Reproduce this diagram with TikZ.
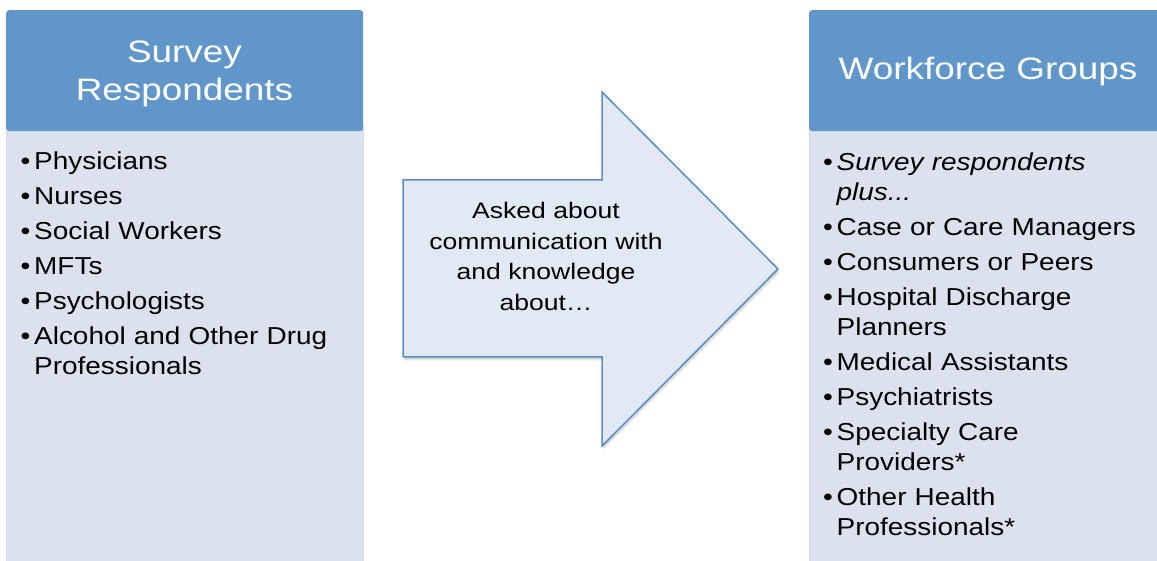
\documentclass[tikz,border=0pt]{standalone}
\usepackage{fontspec}
\setmainfont{Liberation Sans}[FakeStretch=1.14]
\newfontfamily\hdrfont{Liberation Sans}[FakeStretch=1.19]
\newfontfamily\arwfont{Liberation Sans}[FakeStretch=1.18]

\definecolor{hdrblue}{HTML}{6096C9}
\definecolor{panelfill}{HTML}{DBE2EE}
\definecolor{paneledge}{HTML}{D2DAE8}
\definecolor{arrowfill}{HTML}{E1E9F4}
\definecolor{arrowedge}{HTML}{5A8CC6}

% one bulleted entry with a hanging indent for wrapped lines
\newcommand\bentry[1]{\hangindent=13.5pt\hangafter=1\noindent\makebox[13.5pt][l]{•}#1\par}

\tikzset{
  hdrbox/.style={fill=hdrblue, draw=none, rounded corners=3pt, anchor=north west, inner sep=0pt},
  panelbox/.style={fill=panelfill, draw=paneledge, line width=1pt, anchor=north west, inner sep=0pt},
  titletext/.style={text=white, inner sep=0pt, text width=350pt, align=center,
    font=\hdrfont\fontsize{31}{38.5}\selectfont},
  listtext/.style={text=black, inner sep=0pt, anchor=base west, align=left,
    font=\fontsize{24.5}{30}\selectfont\setlength{\parskip}{5pt}},
  arrowbody/.style={fill=arrowfill, draw=arrowedge, line width=1.5pt, line join=miter},
  arrowshade/.style={fill=black, draw=none},
  arrowtext/.style={text=black, inner sep=0pt, text width=260pt, align=center,
    font=\arwfont\fontsize{22.5}{30.5}\selectfont}
}

\begin{document}
\begin{tikzpicture}[x=1pt, y=-1pt]
\useasboundingbox (0,0) rectangle (1157,561);
\clip (0,0) rectangle (1157,561);

% left panel
\node[panelbox, minimum width=357pt, minimum height=450pt] (lbody) at (6,126) {};
\node[hdrbox, minimum width=357pt, minimum height=121pt] (lhdr) at (6,10) {};
\node[titletext, anchor=base] (ltitle) at (184.5,62.5) {Survey\\Respondents};
\node[listtext, text width=330pt] (llist) at (20.5,170) {%
  \bentry{Physicians}
  \bentry{Nurses}
  \bentry{Social Workers}
  \bentry{MFTs}
  \bentry{Psychologists}
  \bentry{Alcohol and Other Drug\newline Professionals}};

% right panel
\node[panelbox, minimum width=362pt, minimum height=450pt] (rbody) at (809,126) {};
\node[hdrbox, minimum width=362pt, minimum height=121pt] (rhdr) at (809,10) {};
\node[titletext, anchor=base] (rtitle) at (988,80) {Workforce Groups};
\node[listtext, text width=330pt] (rlist) at (823,171) {%
  \bentry{\textit{Survey respondents\newline plus...}}
  \bentry{Case or Care Managers}
  \bentry{Consumers or Peers}
  \bentry{Hospital Discharge\newline Planners}
  \bentry{Medical Assistants}
  \bentry{Psychiatrists}
  \bentry{Specialty Care\newline Providers*}
  \bentry{Other Health\newline Professionals*}};

% block arrow with a soft shadow
\foreach \d/\o in {4/0.05, 3/0.06, 2/0.07}{
  \fill[arrowshade, opacity=\o]
    (403+\d*0.4,180+\d) -- (602+\d*0.4,180+\d) -- (602+\d*0.4,92+\d) -- (778+\d*0.4,269+\d)
    -- (602+\d*0.4,446+\d) -- (602+\d*0.4,357+\d) -- (403+\d*0.4,357+\d) -- cycle;
}
\draw[arrowbody] (403,180) -- (602,180) -- (602,92) -- (778,269)
  -- (602,446) -- (602,357) -- (403,357) -- cycle;
\node[arrowtext, anchor=base] (asked) at (546,219)
  {Asked about\\communication with\\and knowledge\\about…};
\end{tikzpicture}
\end{document}
